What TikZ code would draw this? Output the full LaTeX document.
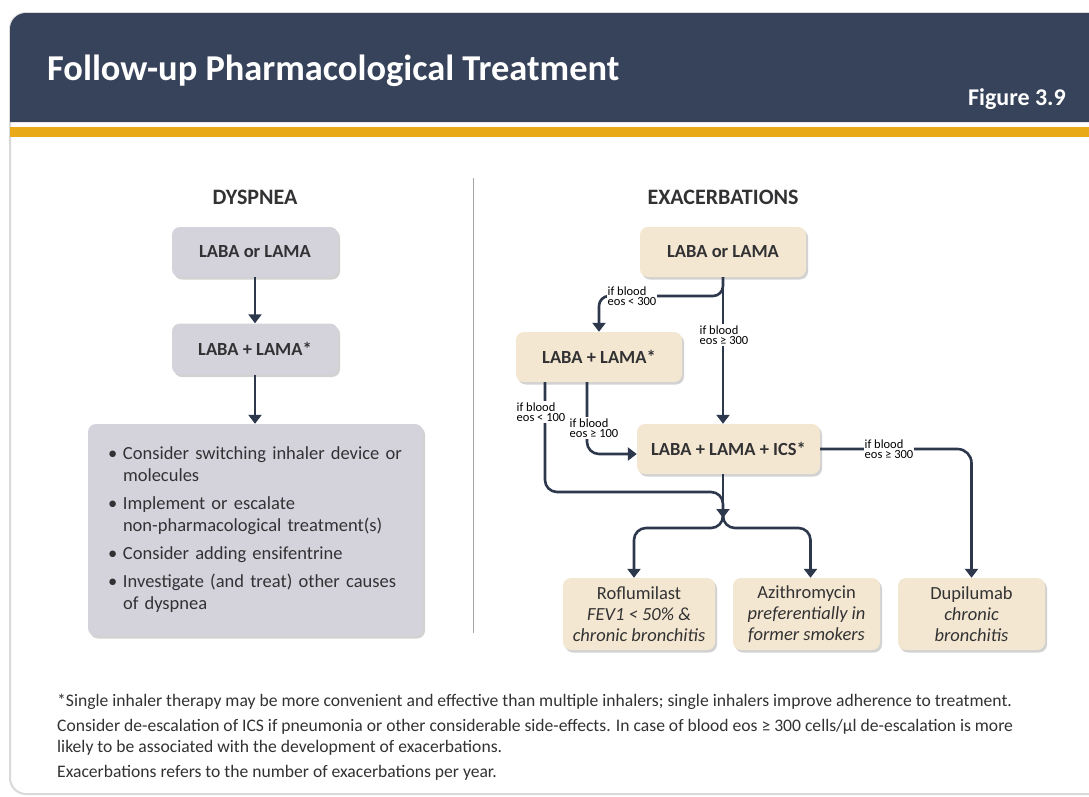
\documentclass[tikz,border=0pt]{standalone}
\usepackage{fontspec}
\setmainfont{Carlito}
\usepackage{tikz}
\usetikzlibrary{positioning}
\usetikzlibrary{arrows.meta,shadows}
\usepackage{xcolor}

\definecolor{headnavy}{RGB}{55,67,90}
\definecolor{linknavy}{RGB}{45,56,77}
\definecolor{bargold}{RGB}{232,170,22}
\definecolor{boxgrey}{RGB}{212,211,219}
\definecolor{boxbeige}{RGB}{244,231,209}
\definecolor{inkgrey}{RGB}{50,50,52}

\begin{document}
\begin{tikzpicture}[x=1pt, y=-1pt,
    card/.style={rounded corners=8pt, drop shadow={shadow xshift=2pt, shadow yshift=-2.5pt, opacity=0.35}, text=inkgrey},
    greystep/.style={card, fill=boxgrey, minimum width=166pt, minimum height=50pt, font=\bfseries\fontsize{18.5}{22}\selectfont},
    beigestep/.style={card, fill=boxbeige, minimum height=50pt, font=\bfseries\fontsize{18.5}{22}\selectfont},
    drugbox/.style={card, fill=boxbeige, minimum width=147pt, minimum height=72pt, align=center, font=\fontsize{18.5}{21}\selectfont},
    colhead/.style={font=\bfseries\fontsize{22}{24}\selectfont, text=inkgrey, anchor=base},
    cond/.style={fill=white, inner sep=1pt, align=left, text=black, font=\fontsize{12.5}{10.5}\selectfont},
    note/.style={anchor=base west, text=inkgrey, font=\fontsize{17.6}{20}\selectfont, inner sep=0pt},
    link/.style={draw=linknavy, line width=2.6pt},
    arr/.style={link, -{Triangle[width=13pt,length=9pt]}}]
    \useasboundingbox (0,0) rectangle (1089,796);
    \clip (0,0) rectangle (1089,796);

    % Frame and header
    \draw[gray!30, line width=2pt, fill=white, rounded corners=16pt] (10,13) rectangle (1120,794);
    \fill[headnavy] (10,122) [rounded corners=16pt] -- (10,13) -- (1120,13) [sharp corners] -- (1120,122) -- cycle;
    \fill[bargold] (10,127) rectangle (1120,137);
    \node[anchor=base west, inner sep=0pt, text=white, font=\bfseries\fontsize{36.4}{42}\selectfont] (title) at (47,80) {Follow-up Pharmacological Treatment};
    \node[anchor=base east, inner sep=0pt, text=white, font=\bfseries\fontsize{24}{27}\selectfont] (fignum) at (1066,105) {Figure 3.9};

    % Dyspnea column
    \node[colhead] (dys) at (255,204) {DYSPNEA};
    \node[greystep] (la) at (255,252) {LABA or LAMA};
    \node[greystep, minimum height=51pt] (lb) at (255,349) {LABA + LAMA*};
    \node[card, fill=boxgrey, minimum width=335pt, minimum height=212pt, text width=295pt, align=left,
          font=\fontsize{18.5}{22}\selectfont] (lc) at (255.5,530) {%
        \makebox[15pt][l]{\textbullet}Consider switching inhaler device or\\
        \hspace*{15pt}molecules\\[6pt]
        \makebox[15pt][l]{\textbullet}Implement or escalate\\
        \hspace*{15pt}non-pharmacological treatment(s)\\[6pt]
        \makebox[15pt][l]{\textbullet}Consider adding ensifentrine\\[6pt]
        \makebox[15pt][l]{\textbullet}Investigate (and treat) other causes\\
        \hspace*{15pt}of dyspnea};
    \draw[arr] (la) -- (lb);
    \draw[arr] (lb.south) -- (lb.south |- lc.north);

    \draw[gray!70, line width=1pt] (473,178) -- (473,633);

    % Exacerbations column
    \node[colhead] (exa) at (723,204) {EXACERBATIONS};
    \node[beigestep, minimum width=166pt] (ra) at (723,252) {LABA or LAMA};
    \node[beigestep, minimum width=166pt] (rb) at (599,357) {LABA + LAMA*};
    \node[beigestep, minimum width=183pt] (rc) at (728.5,449) {LABA + LAMA + ICS*};
    \node[drugbox, minimum width=152pt] (rof) at (639,614) {Roflumilast\\\textit{FEV1 < 50\% \&}\\\textit{chronic bronchitis}};
    \node[drugbox] (azi) at (806.5,614) {Azithromycin\\\textit{preferentially in}\\\textit{former smokers}};
    \node[drugbox] (dup) at (971.5,614) {Dupilumab\\\textit{chronic}\\\textit{bronchitis}};

    \coordinate (fork) at (723,296);
    \coordinate (bend) at (723,492);
    \coordinate (join) at (723,518);
    \coordinate (split) at (723,528);

    \draw[arr] (ra.south) -- (ra.south |- rc.north);
    \draw[arr, rounded corners=10pt] (ra.south) |- (rb.north |- fork) -- (rb.north);
    \draw[arr, rounded corners=12pt] ([xshift=-54pt]rb.south) |- (bend) -- (join);
    \draw[arr, rounded corners=12pt] ([xshift=-12pt]rb.south) |- ([yshift=-5pt]rc.west);
    \draw[link] (rc.south -| join) -- (join);
    \draw[arr, rounded corners=12pt] (join) -- (split) -| ([xshift=-5pt]rof.north);
    \draw[arr, rounded corners=12pt] (join) -- (split) -| ([xshift=4pt]azi.north);
    \draw[arr, rounded corners=14pt] (rc.east) -| (dup.north);

    % Conditions on the links
    \node[cond] (eosa) at (632,296) {if blood\\eos < 300};
    \node[cond] (eosb) at (724,335) {if blood\\eos ≥ 300};
    \node[cond] (eosc) at (541,412) {if blood\\eos < 100};
    \node[cond] (eosd) at (594,428) {if blood\\eos ≥ 100};
    \node[cond] (eose) at (889,449) {if blood\\eos ≥ 300};

    % Footnotes
    \node[note] (fn1) at (57,706) {*Single inhaler therapy may be more convenient and effective than multiple inhalers; single inhalers improve adherence to treatment.};
    \node[note] (fn2) at (57,731) {Consider de-escalation of ICS if pneumonia or other considerable side-effects. In case of blood eos ≥ 300 cells/µl de-escalation is more};
    \node[note] (fn3) at (57,752) {likely to be associated with the development of exacerbations.};
    \node[note] (fn4) at (57,777) {Exacerbations refers to the number of exacerbations per year.};
\end{tikzpicture}
\end{document}
